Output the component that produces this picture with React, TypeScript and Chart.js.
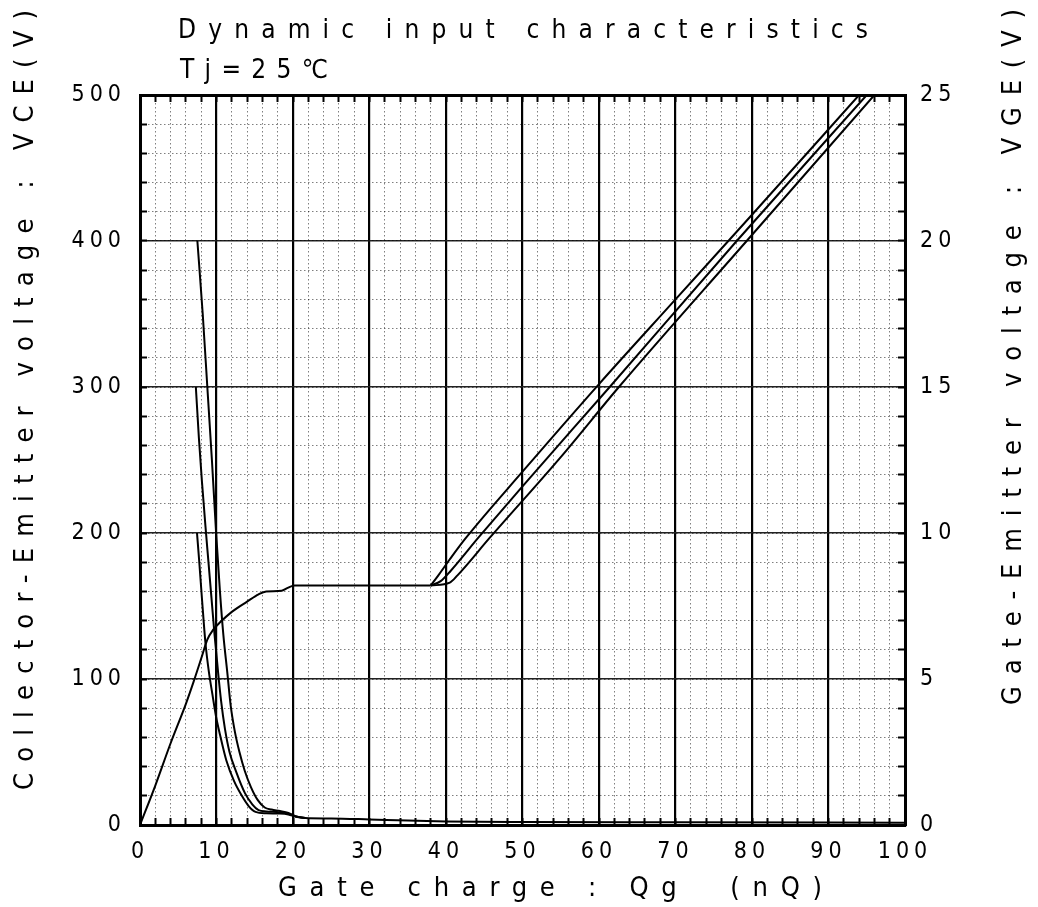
import { useEffect, useRef } from 'react';
import { Chart, registerables } from 'chart.js';

Chart.register(...registerables);

const FONT = '"Liberation Sans Narrow", "DejaVu Sans Condensed", "Liberation Sans", "DejaVu Sans", sans-serif';

// Tick labels
const xTickLabels = ['0', '10', '20', '30', '40', '50', '60', '70', '80', '90', '100'];
const vceTickLabels = ['0', '100', '200', '300', '400', '500'];
const vgeTickLabels = ['0', '5', '10', '15', '20', '25'];

// Collector-Emitter voltage curves (Qg nC, VCE V)
const vce400Q = [7.5, 8.2, 8.8, 9.4, 9.95, 10.45, 10.9, 11.4, 11.85, 12.4, 13.0, 13.7, 14.5, 15.4, 16.3, 17.2, 18.3, 19.4, 20.4, 21.6, 25, 30, 35, 40, 50, 70, 100];
const vce400V = [400, 350, 300, 250, 200, 160, 130, 105, 82, 64, 50, 37, 26, 17, 12, 10.6, 9.6, 8.3, 5.9, 4.8, 4.5, 3.8, 3.0, 2.4, 2.0, 1.8, 1.6];
const vce300Q = [7.3, 7.7, 8.1, 8.55, 8.95, 9.35, 9.75, 10.2, 10.6, 11.1, 11.7, 12.6, 13.7, 14.7, 15.5, 16.5, 18.2, 19.4, 20.4, 21.6];
const vce300V = [300, 265, 235, 205, 180, 155, 130, 105, 85, 66, 50, 36, 22, 14, 10.2, 9.3, 8.8, 7.8, 5.8, 4.8];
const vce200Q = [7.45, 7.75, 8.1, 8.55, 9.0, 9.45, 9.95, 10.45, 11.3, 12.3, 13.2, 14.2, 15.1, 16.5, 18.2, 19.4, 20.4, 21.6];
const vce200V = [200, 180, 155, 125, 105, 90, 74, 62, 44, 30, 21, 13, 9, 8.0, 7.8, 7.2, 5.6, 4.8];

// Gate-Emitter voltage curve (Qg nC, VGE V): common part and three branches
const vgeQ = [0, 2, 4, 6, 7, 8, 8.8, 9.6, 10.5, 12, 14, 15.5, 16.5, 18.5, 19.3, 20.2, 38];
const vgeV = [0, 1.35, 2.8, 4.15, 4.9, 5.7, 6.35, 6.7, 6.95, 7.3, 7.65, 7.9, 8.0, 8.02, 8.12, 8.2, 8.2];
const vgeB1Q = [38, 39, 40.5, 42.6, 50, 60, 70, 80, 94];
const vgeB1V = [8.2, 8.55, 9.1, 9.83, 12.1, 15.1, 18.0, 20.9, 25];
const vgeB2Q = [38, 39.3, 40.6, 44.2, 50, 61.4, 78, 95];
const vgeB2V = [8.2, 8.35, 8.7, 9.83, 11.6, 15.0, 20.0, 25];
const vgeB3Q = [38, 40.5, 41.5, 45.7, 55, 62.6, 79.3, 96];
const vgeB3V = [8.2, 8.3, 8.55, 9.83, 12.6, 15.0, 20.0, 25];

const toPts = (xs: number[], ys: number[]) => xs.map((x, i) => ({ x, y: ys[i] }));

function drawSpaced(ctx: CanvasRenderingContext2D, text: string, x: number, y: number, target: number, size: number, rot: number) {
  ctx.save();
  ctx.font = `${size}px ${FONT}`;
  (ctx as any).letterSpacing = '0px';
  const w0 = ctx.measureText(text).width;
  const n = [...text].length;
  const sp = n > 1 ? (target - w0) / (n - 1) : 0;
  (ctx as any).letterSpacing = `${sp}px`;
  ctx.fillStyle = '#000';
  ctx.textAlign = 'left';
  ctx.textBaseline = 'alphabetic';
  ctx.translate(x, y);
  ctx.rotate(rot);
  ctx.fillText(text, 0, 0);
  ctx.restore();
}

const textPlugin = {
  id: 'spacedTexts',
  beforeDraw(chart: any) {
    chart.ctx.letterSpacing = '5px';
  },
  afterDraw(chart: any) {
    const ctx = chart.ctx as CanvasRenderingContext2D;
    (ctx as any).letterSpacing = '0px';
    drawSpaced(ctx, 'Dynamic input characteristics', 178, 38, 690, 26, 0);
    drawSpaced(ctx, 'Tj=25℃', 180, 78, 148, 26, 0);
    drawSpaced(ctx, 'Gate charge : Qg  (nQ)', 278, 896, 544, 27, 0);
    drawSpaced(ctx, 'Collector-Emitter voltage : VCE(V)', 33, 790, 780, 27, -Math.PI / 2);
    drawSpaced(ctx, 'Gate-Emitter voltage : VGE(V)', 1021, 705, 696, 27, -Math.PI / 2);
  },
};

const tickFont = { family: FONT, size: 23 };
const DOT = 'rgba(0,0,0,0.5)';

export default function App() {
  const ref = useRef<HTMLCanvasElement>(null);

  useEffect(() => {
    if (!ref.current) return;
    const line = {
      showLine: true,
      borderColor: '#000',
      borderWidth: 2,
      pointRadius: 0,
      pointHoverRadius: 0,
      fill: false,
      cubicInterpolationMode: 'monotone' as const,
    };
    const chart = new Chart(ref.current, {
      type: 'scatter',
      data: {
        datasets: [
          { ...line, label: 'VCE 400V', data: toPts(vce400Q, vce400V), xAxisID: 'x', yAxisID: 'y' },
          { ...line, label: 'VCE 300V', data: toPts(vce300Q, vce300V), xAxisID: 'x', yAxisID: 'y' },
          { ...line, label: 'VCE 200V', data: toPts(vce200Q, vce200V), xAxisID: 'x', yAxisID: 'y' },
          { ...line, label: 'VGE', data: toPts(vgeQ, vgeV), xAxisID: 'x', yAxisID: 'y2' },
          { ...line, label: 'VGE 400V', data: toPts(vgeB1Q, vgeB1V), xAxisID: 'x', yAxisID: 'y2' },
          { ...line, label: 'VGE 300V', data: toPts(vgeB2Q, vgeB2V), xAxisID: 'x', yAxisID: 'y2' },
          { ...line, label: 'VGE 200V', data: toPts(vgeB3Q, vgeB3V), xAxisID: 'x', yAxisID: 'y2' },
        ],
      },
      options: {
        animation: false,
        responsive: true,
        maintainAspectRatio: false,
        events: [],
        layout: { padding: { top: 95, left: 0, right: 0, bottom: 0 } },
        plugins: { legend: { display: false }, tooltip: { enabled: false } },
        scales: {
          x: {
            type: 'linear', position: 'bottom', min: 0, max: 100, weight: 1,
            afterFit: (s: any) => { s.height = 82; },
            ticks: {
              stepSize: 10, autoSkip: false, maxRotation: 0, padding: 13,
              font: tickFont, color: '#000',
              callback: (_v: any, i: number) => xTickLabels[i],
            },
            grid: { color: '#000', lineWidth: 2.2, drawTicks: false },
            border: { display: true, color: '#000', width: 3 },
          },
          xm: {
            type: 'linear', position: 'bottom', min: 0, max: 100, weight: 0,
            afterFit: (s: any) => { s.height = 0; },
            ticks: { stepSize: 2, display: false },
            grid: { color: DOT, lineWidth: 1, drawTicks: true, tickLength: -7, tickColor: '#000', tickWidth: 2 },
            border: { display: false, dash: [1.5, 2.5] },
          },
          xt: {
            type: 'linear', position: 'top', min: 0, max: 100, weight: 0,
            afterFit: (s: any) => { s.height = 0; },
            ticks: { stepSize: 2, display: false },
            grid: { drawOnChartArea: false, drawTicks: true, tickLength: -7, tickColor: '#000', tickWidth: 2 },
            border: { display: true, color: '#000', width: 3 },
          },
          y: {
            type: 'linear', position: 'left', min: 0, max: 500, weight: 1,
            afterFit: (s: any) => { s.width = 140; },
            ticks: {
              stepSize: 100, padding: 14, font: tickFont, color: '#000',
              callback: (_v: any, i: number) => vceTickLabels[i],
            },
            grid: { color: '#222', lineWidth: 1.5, drawTicks: false },
            border: { display: true, color: '#000', width: 3 },
          },
          ym: {
            type: 'linear', position: 'left', min: 0, max: 500, weight: 0,
            afterFit: (s: any) => { s.width = 0; },
            ticks: { stepSize: 20, display: false },
            grid: { color: DOT, lineWidth: 1, drawTicks: true, tickLength: -7, tickColor: '#000', tickWidth: 2 },
            border: { display: false, dash: [1.5, 2.5] },
          },
          y2: {
            type: 'linear', position: 'right', min: 0, max: 25, weight: 1,
            afterFit: (s: any) => { s.width = 133; },
            ticks: {
              stepSize: 5, padding: 15, font: tickFont, color: '#000',
              callback: (_v: any, i: number) => vgeTickLabels[i],
            },
            grid: { drawOnChartArea: false, drawTicks: false },
            border: { display: true, color: '#000', width: 3 },
          },
          y2m: {
            type: 'linear', position: 'right', min: 0, max: 25, weight: 0,
            afterFit: (s: any) => { s.width = 0; },
            ticks: { stepSize: 1, display: false },
            grid: { drawOnChartArea: false, drawTicks: true, tickLength: -7, tickColor: '#000', tickWidth: 2 },
            border: { display: false },
          },
        },
      } as any,
      plugins: [textPlugin],
    });
    return () => chart.destroy();
  }, []);

  return (
    <div style={{ position: 'absolute', left: 0, top: 0, width: 1038, height: 907, background: '#fff' }}>
      <canvas ref={ref} />
    </div>
  );
}
